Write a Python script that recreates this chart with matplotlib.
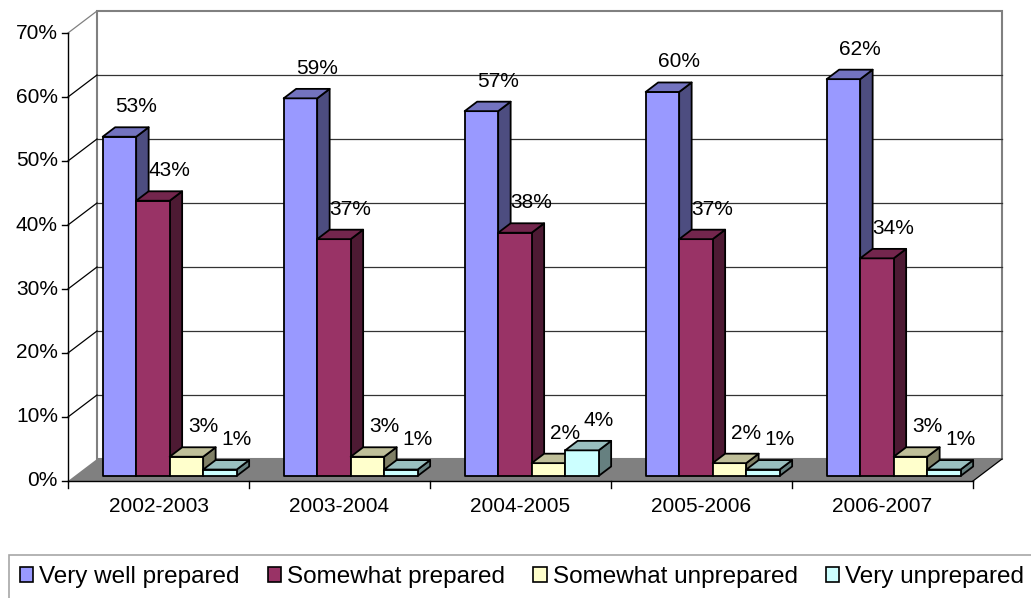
import matplotlib.pyplot as plt
from matplotlib.patches import Polygon, Patch
import numpy as np

plt.rcParams['font.family'] = ['Liberation Sans', 'DejaVu Sans']

years = ['2002-2003', '2003-2004', '2004-2005', '2005-2006', '2006-2007']
series = ['Very well prepared', 'Somewhat prepared', 'Somewhat unprepared', 'Very unprepared']
very_well = [53, 59, 57, 60, 62]
somewhat = [43, 37, 38, 37, 34]
somewhat_un = [3, 3, 2, 2, 3]
very_un = [1, 1, 4, 1, 1]
values = [very_well, somewhat, somewhat_un, very_un]
colors = ['#9999FF', '#993366', '#FFFFCC', '#CCFFFF']
yticks = np.arange(0, 80, 10)

# pixel layout of the front plane
X0, Y0 = 68, 481
CAT_PX, PCT_PX = 181, 6.4
DU, DV = 29 / CAT_PX, 22 / PCT_PX     # depth of the chart box
Z0, Z1 = 0.23, 0.66                   # bar depth range
BW = 33.5 / CAT_PX                    # bar width
GL = 28 / CAT_PX                      # group offset within category

def proj(u, v, z):
    return (u + z * DU, v + z * DV)

def shade(c, f):
    r, g, b = plt.matplotlib.colors.to_rgb(c)
    return (r * f, g * f, b * f)

fig = plt.figure(figsize=(10.31, 5.98), dpi=100)
ax = fig.add_axes([0, 0, 1, 1])
ax.set_xlim(-X0 / CAT_PX, (1031 - X0) / CAT_PX)
ax.set_ylim(-(598 - Y0) / PCT_PX, Y0 / PCT_PX)
ax.axis('off')

n = len(years)
top = yticks[-1]

# back wall
wall = [proj(0, 0, 1), proj(n, 0, 1), proj(n, top, 1), proj(0, top, 1)]
ax.add_patch(Polygon(wall, closed=True, facecolor='white', edgecolor='#808080', lw=1.5, zorder=1))
for t in yticks[1:-1]:
    a, b = proj(0, t, 1), proj(n, t, 1)
    ax.plot([a[0], b[0]], [a[1], b[1]], color='#333333', lw=0.9, zorder=2)
# side wall lines
for t in yticks[1:]:
    a, b = proj(0, t, 0), proj(0, t, 1)
    ax.plot([a[0], b[0]], [a[1], b[1]], color='#808080' if t == top else 'black', lw=0.9, zorder=2)

# floor
floor = [proj(0, 0, 0), proj(n, 0, 0), proj(n, 0, 1), proj(0, 0, 1)]
ax.add_patch(Polygon(floor, closed=True, facecolor='#808080', edgecolor='none', zorder=2))
a, b = proj(n, 0, 0), proj(n, 0, 1)
ax.plot([a[0], b[0]], [a[1], b[1]], color='black', lw=0.9, zorder=3)

# axes
ax.plot([0, 0], [0, top], color='black', lw=1, zorder=3)
ax.plot([0, n], [0, 0], color='black', lw=1, zorder=3)
for t in yticks:
    ax.plot([-6 / CAT_PX, 0], [t, t], color='black', lw=1, zorder=3)
    ax.text(-10 / CAT_PX, t, f'{t}%', ha='right', va='center', fontsize=15)
for i in range(n + 1):
    ax.plot([i, i], [0, -7 / PCT_PX], color='black', lw=1, zorder=3)
for i, y in enumerate(years):
    ax.text(i + 0.5, -25 / PCT_PX, y, ha='center', va='center', fontsize=15)

# bars
for i in range(n):
    for j in range(len(series)):
        val = values[j][i]
        c = colors[j]
        u0 = i + GL + j * BW
        u1 = u0 + BW
        side = [proj(u1, 0, Z0), proj(u1, 0, Z1), proj(u1, val, Z1), proj(u1, val, Z0)]
        front = [proj(u0, 0, Z0), proj(u1, 0, Z0), proj(u1, val, Z0), proj(u0, val, Z0)]
        topf = [proj(u0, val, Z0), proj(u1, val, Z0), proj(u1, val, Z1), proj(u0, val, Z1)]
        for poly, f in [(side, 0.5), (front, 1.0), (topf, 0.75)]:
            ax.add_patch(Polygon(poly, closed=True, facecolor=shade(c, f),
                                 edgecolor='black', lw=1.3, joinstyle='round', zorder=4))
        lx, ly = proj(u1, val, Z0)
        ax.text(lx, ly + 30 / PCT_PX, f'{val}%', ha='center', va='center', fontsize=15, zorder=5)

# legend
handles = [Patch(facecolor=c, edgecolor='black', lw=1.2) for c in colors]
leg = fig.legend(handles, series, ncol=4, loc='upper left',
                 bbox_to_anchor=(9 / 1031, 1 - 555 / 598), fontsize=17.5,
                 frameon=True, fancybox=False, edgecolor='#909090',
                 handlelength=0.55, handleheight=0.55, handletextpad=0.25,
                 columnspacing=1.15, borderpad=0.45, borderaxespad=0)
leg.get_frame().set_linewidth(1.2)

fig.savefig('out.png', dpi=100)
